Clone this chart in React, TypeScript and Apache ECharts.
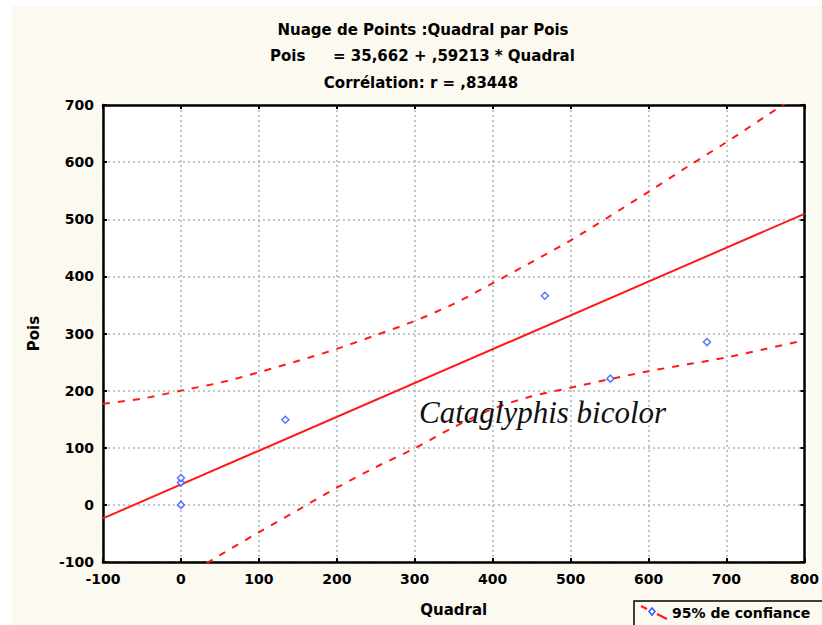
import React, { useEffect, useRef } from "react";
import * as echarts from "echarts";

// Observations (Quadral, Pois)
const points: [number, number][] = [
  [0, 0],
  [0, 39],
  [0, 47],
  [134, 149],
  [467, 366],
  [551, 221],
  [675, 285],
];

// Regression line endpoints: Pois = 35,662 + ,59213 * Quadral
const fitLine: [number, number][] = [
  [-100, -23.6],
  [800, 509.4],
];

// 95% confidence bands
const upperX = [-100, -50, 0, 50, 100, 150, 200, 250, 300, 350, 400, 450, 500, 550, 600, 650, 700, 750, 800];
const upperY = [177, 186, 200, 214, 232, 252, 273, 297, 322, 352, 388, 425, 463, 505, 548, 592, 635, 680, 725];
const lowerX = [0, 50, 100, 150, 200, 250, 300, 350, 400, 450, 500, 550, 600, 650, 700, 750, 800];
const lowerY = [-130, -88, -48, -9, 30, 66, 99, 136, 168, 190, 205, 220, 234, 246, 258, 273, 288];

const xTicks = { min: -100, max: 800, interval: 100 };
const yTicks = { min: -100, max: 700, interval: 100 };

const titleLines = [
  "Nuage de Points :Quadral par Pois",
  "Pois",
  "= 35,662 + ,59213 * Quadral",
  "Corrélation: r = ,83448",
];
const annotation = "Cataglyphis bicolor";
const legendLabel = "95% de confiance";

const RED = "#ff1a1a";
const BLUE = "#2f55ff";
const CREAM = "#fcf9f0";
const GRIDC = "#aab4b4";
const FONT = "DejaVu Sans";
const TFONT = `bold 15px '${FONT}'`;

export default function App() {
  const ref = useRef<HTMLDivElement>(null);
  useEffect(() => {
    if (!ref.current) return;
    const chart = echarts.init(ref.current, undefined, { renderer: "svg" });
    const bandStyle = { color: RED, width: 2, type: [7, 8] as any };
    const axisCommon = {
      type: "value" as const,
      axisLine: { show: true, onZero: false, lineStyle: { color: "#000", width: 2.5 } },
      axisTick: { show: true, inside: true, length: 4, lineStyle: { color: "#000", width: 2 } },
    };
    const labelStyle = { color: "#000", fontSize: 14, fontWeight: "bold" as const, fontFamily: FONT };
    chart.setOption({
      animation: false,
      backgroundColor: "#fff",
      textStyle: { fontFamily: FONT },
      grid: {
        left: 103,
        right: 14,
        top: 105,
        bottom: 63,
        show: true,
        backgroundColor: "#fff",
        borderColor: "#000",
        borderWidth: 0,
      },
      xAxis: [
        {
          ...axisCommon,
          position: "bottom",
          min: xTicks.min,
          max: xTicks.max,
          interval: xTicks.interval,
          name: "Quadral",
          nameLocation: "middle",
          nameGap: 40,
          nameTextStyle: { color: "#000", fontSize: 15, fontWeight: "bold", fontFamily: FONT },
          axisLabel: { ...labelStyle, margin: 10 },
          splitLine: { show: true, lineStyle: { color: GRIDC, type: [2, 3], width: 1.5 } },
        },
        {
          ...axisCommon,
          position: "top",
          min: xTicks.min,
          max: xTicks.max,
          interval: xTicks.interval,
          axisLabel: { show: false },
          splitLine: { show: false },
        },
      ],
      yAxis: [
        {
          ...axisCommon,
          position: "left",
          min: yTicks.min,
          max: yTicks.max,
          interval: yTicks.interval,
          name: "Pois",
          nameLocation: "middle",
          nameGap: 62,
          nameRotate: 90,
          nameTextStyle: { color: "#000", fontSize: 15, fontWeight: "bold", fontFamily: FONT },
          axisLabel: { ...labelStyle, margin: 9 },
          splitLine: { show: true, lineStyle: { color: GRIDC, type: [2, 3], width: 1.5 } },
        },
        {
          ...axisCommon,
          position: "right",
          min: yTicks.min,
          max: yTicks.max,
          interval: yTicks.interval,
          axisLabel: { show: false },
          splitLine: { show: false },
        },
      ],
      series: [
        {
          type: "line",
          data: upperX.map((x, i) => [x, upperY[i]]),
          smooth: 0.3,
          symbol: "none",
          lineStyle: bandStyle,
          clip: true,
          z: 3,
        },
        {
          type: "line",
          data: lowerX.map((x, i) => [x, lowerY[i]]),
          smooth: 0.3,
          symbol: "none",
          lineStyle: bandStyle,
          clip: true,
          z: 3,
        },
        {
          type: "line",
          data: fitLine,
          symbol: "none",
          lineStyle: { color: RED, width: 2 },
          clip: true,
          z: 3,
        },
        {
          type: "scatter",
          data: points,
          symbol: "diamond",
          symbolSize: 7,
          itemStyle: { color: "#fff", borderColor: BLUE, borderWidth: 1.5 },
          z: 4,
        },
      ],
      graphic: [
        {
          type: "rect",
          z: -10,
          silent: true,
          shape: { x: 12, y: 6, width: 820, height: 630 },
          style: { fill: CREAM },
        },
        {
          type: "rect",
          z: -9,
          silent: true,
          shape: { x: 103, y: 105, width: 705, height: 457 },
          style: { fill: "#fff" },
        },
        {
          type: "text",
          x: 423,
          y: 30,
          style: { text: titleLines[0], fill: "#000", font: TFONT, textAlign: "center", textVerticalAlign: "middle" },
        },
        {
          type: "text",
          x: 270,
          y: 56,
          style: { text: titleLines[1], fill: "#000", font: TFONT, textAlign: "left", textVerticalAlign: "middle" },
        },
        {
          type: "text",
          x: 333,
          y: 56,
          style: { text: titleLines[2], fill: "#000", font: TFONT, textAlign: "left", textVerticalAlign: "middle" },
        },
        {
          type: "text",
          x: 421,
          y: 83,
          style: { text: titleLines[3], fill: "#000", font: TFONT, textAlign: "center", textVerticalAlign: "middle" },
        },
        {
          type: "text",
          x: 419,
          y: 412,
          z: 10,
          style: { text: annotation, fill: "#111", font: `italic 31px 'Liberation Serif'`, textAlign: "left", textVerticalAlign: "middle" },
        },
        {
          type: "rect",
          shape: { x: 634, y: 601, width: 200, height: 40 },
          style: { fill: CREAM, stroke: "#000", lineWidth: 1.5 },
        },
        {
          type: "line",
          shape: { x1: 641, y1: 606, x2: 647, y2: 609 },
          style: { stroke: RED, lineWidth: 2 },
        },
        {
          type: "line",
          shape: { x1: 657, y1: 614, x2: 667, y2: 619 },
          style: { stroke: RED, lineWidth: 2 },
        },
        {
          type: "polygon",
          shape: { points: [[652, 608], [655, 611.5], [652, 615], [649, 611.5]] },
          style: { fill: "#fff", stroke: BLUE, lineWidth: 1.5 },
        },
        {
          type: "text",
          x: 672,
          y: 613,
          style: { text: legendLabel, fill: "#000", font: `bold 14px '${FONT}'`, textAlign: "left", textVerticalAlign: "middle" },
        },
      ],
    });
    return () => chart.dispose();
  }, []);
  return (
    <div
      ref={ref}
      style={{ position: "fixed", left: 0, top: 0, width: 822, height: 625 }}
    />
  );
}
